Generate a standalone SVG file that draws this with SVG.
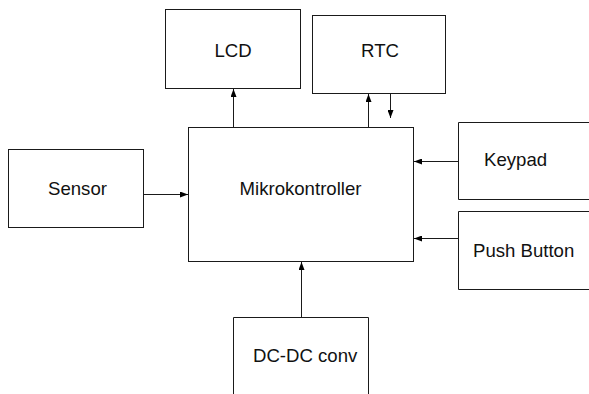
<svg xmlns="http://www.w3.org/2000/svg" width="589" height="394" viewBox="0 0 589 394">
<style>
.box{fill:#fff;stroke:#1a1a1a;stroke-width:1}
.lbl{font-family:"Liberation Sans",Arial,sans-serif;font-size:18.6px;fill:#111}
.c{stroke:#1a1a1a;stroke-width:1;fill:none;marker-end:url(#ah)}
</style>
<defs>
<marker id="ah" viewBox="0 0 8 6" refX="8" refY="3" markerWidth="8" markerHeight="6" markerUnits="userSpaceOnUse" orient="auto">
<path d="M0,0 L8,3 L0,6 Z" fill="#000"/>
</marker>
</defs>
<rect width="589" height="394" fill="#fff"/>
<g id="lcd"><rect class="box" x="165.5" y="9.5" width="135" height="79"/><text class="lbl" x="233" y="57" text-anchor="middle">LCD</text></g>
<g id="rtc"><rect class="box" x="312.5" y="15.5" width="133" height="78"/><text class="lbl" x="380" y="57" text-anchor="middle">RTC</text></g>
<g id="mikro"><rect class="box" x="188.5" y="127.5" width="225" height="134"/><text class="lbl" x="300.5" y="195" text-anchor="middle">Mikrokontroller</text></g>
<g id="sensor"><rect class="box" x="8.5" y="149.5" width="135" height="78"/><text class="lbl" x="77.5" y="195" text-anchor="middle">Sensor</text></g>
<g id="keypad"><path class="box" d="M590,122.5 H458.5 V199.5 H590"/><text class="lbl" x="484" y="166">Keypad</text></g>
<g id="pushbutton"><path class="box" d="M590,211.5 H458.5 V289.5 H590"/><text class="lbl" x="473" y="257">Push Button</text></g>
<g id="dcdc"><path class="box" d="M233.5,395 V317.5 H368.5 V395"/><text class="lbl" x="253" y="362">DC-DC conv</text></g>
<g id="connectors">
<path class="c" d="M233.5,127 V89"/>
<path class="c" d="M368.5,127 V94"/>
<path class="c" d="M390.5,94 V118"/>
<path class="c" d="M143,194.5 H188"/>
<path class="c" d="M458,161.5 H414"/>
<path class="c" d="M458,238.5 H414"/>
<path class="c" d="M301.5,317 V262"/>
</g>
</svg>
